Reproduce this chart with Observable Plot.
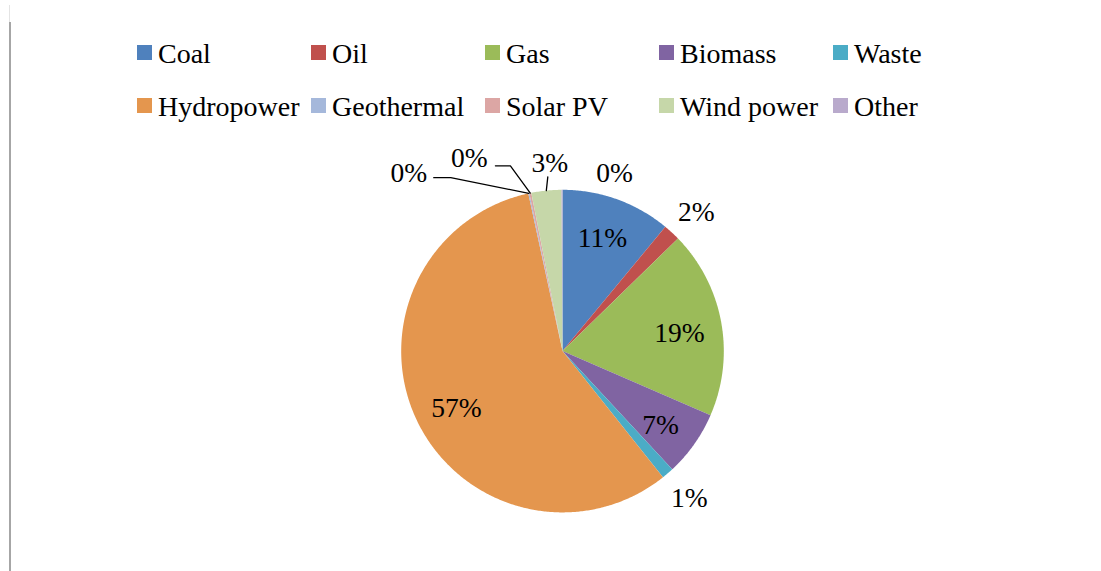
<!DOCTYPE html>
<html>
<head>
<meta charset="utf-8">
<script src="https://cdn.jsdelivr.net/npm/d3@7"></script>
<script src="https://cdn.jsdelivr.net/npm/@observablehq/plot@0.6"></script>
<style>
  html, body { margin: 0; padding: 0; background: #fff; }
  #wrap { position: relative; width: 1101px; height: 571px; overflow: hidden; font-family: "Liberation Serif", serif; }
  #edge1 { position: absolute; left: 9px; top: 5px; width: 1px; height: 17px; background: #e4e4e4; }
  #edge2 { position: absolute; left: 9px; top: 22px; width: 2px; height: 549px; background: #a6a6a6; }
  #legend { height: 136px; box-sizing: border-box; padding-top: 27px; padding-left: 137px;
            display: grid; grid-template-columns: repeat(5, 174px); grid-auto-rows: 53px; }
  .item { display: flex; align-items: center; font-size: 28px; color: #000; white-space: nowrap; }
  .sw { width: 15px; height: 15px; margin-right: 6px; position: relative; top: -1px; flex: none; }
  svg { display: block; }
</style>
</head>
<body>
<div id="wrap">
  <div id="edge1"></div><div id="edge2"></div>
  <div id="legend"></div>
  <div id="chart"></div>
</div>
<script>
// ---- data ----
const categories = ["Coal","Oil","Gas","Biomass","Waste","Hydropower","Geothermal","Solar PV","Wind power","Other"];
const shares = [11.0, 1.7, 18.8, 6.6, 1.2, 57.3, 0.1, 0.2, 3.0, 0.1];
const colors = ["#4F81BD","#C0504D","#9BBB59","#8064A2","#4BACC6","#E4964E","#A5B8DB","#DCA6A4","#C6D7A9","#B9AACC"];

// ---- label layout (not data) ----
const labelRadius = [0.74, 1.195, 0.733, 0.763, 1.206, 0.747, 1.46, 1.33, 1.17, 1.147];
const labelShiftDeg = [-0.2, 1.3, 1.8, 1.9, 0, -3.0, -28.7, -14.2, 1.9, 16.5];
const leaders = {6: {elbow: [42, -5], end: [25, -5]}, 7: {elbow: [41, -8], end: [26, -8]}, 8: {end: [-2, -14]}};

const R = 161.3;
const W = 1101, H = 435;
const cx = 562, cy = 214.6; // pie centre in svg px

// legend
const leg = document.getElementById("legend");
categories.forEach((c, i) => {
  const it = document.createElement("div");
  it.className = "item";
  it.innerHTML = `<span class="sw" style="background:${colors[i]}"></span><span>${c}</span>`;
  leg.appendChild(it);
});

// slice geometry from the shares
const total = d3.sum(shares);
let cum = 0;
const slices = categories.map((c, i) => {
  const a0 = cum / total * 2 * Math.PI;
  cum += shares[i];
  const a1 = cum / total * 2 * Math.PI;
  return {category: c, value: shares[i], a0, a1, mid: (a0 + a1) / 2, i};
});
const pt = (a, r) => ({x: r * Math.sin(a), y: r * Math.cos(a)});

const polyPts = [];
for (const s of slices) {
  polyPts.push({category: s.category, ...pt(0, 0)});
  const n = Math.max(2, Math.ceil((s.a1 - s.a0) / (Math.PI / 360)));
  for (let k = 0; k <= n; k++) {
    const a = s.a0 + (s.a1 - s.a0) * k / n;
    polyPts.push({category: s.category, ...pt(a, R)});
  }
}

const labels = slices.map(s => {
  const a = s.mid + labelShiftDeg[s.i] * Math.PI / 180;
  const p = pt(a, R * labelRadius[s.i]);
  return {...p, text: Math.round(s.value / total * 100) + "%", i: s.i};
});

const leaderPts = [];
for (const [k, L] of Object.entries(leaders)) {
  const s = slices[+k], lab = labels[+k];
  const e = pt(s.mid, R);
  leaderPts.push({id: k, x: e.x, y: e.y});
  if (L.elbow) leaderPts.push({id: k, x: lab.x + L.elbow[0], y: lab.y + L.elbow[1]});
  leaderPts.push({id: k, x: lab.x + L.end[0], y: lab.y + L.end[1]});
}

const chart = Plot.plot({
  width: W, height: H,
  margin: 0,
  style: {background: "transparent", fontFamily: "Liberation Serif, serif"},
  x: {domain: [-cx, W - cx], axis: null},
  y: {domain: [-(H - cy), cy], axis: null},
  color: {domain: categories, range: colors},
  marks: [
    Plot.line(polyPts, {x: "x", y: "y", z: "category", fill: "category", stroke: "none", curve: "linear-closed"}),
    Plot.line(leaderPts, {x: "x", y: "y", z: "id", stroke: "#000", strokeWidth: 1.3}),
    Plot.text(labels, {x: "x", y: "y", text: "text", fontSize: 27.5, fill: "#000", textAnchor: "middle", lineAnchor: "middle"})
  ]
});
document.getElementById("chart").appendChild(chart);
</script>
</body>
</html>
